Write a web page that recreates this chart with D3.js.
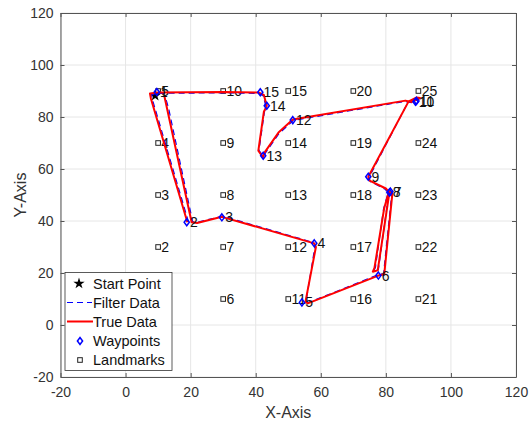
<!DOCTYPE html>
<html><head><meta charset="utf-8">
<script src="https://cdn.jsdelivr.net/npm/d3@7"></script>
<style>body{margin:0;background:#fff}svg{display:block}text{font-family:"Liberation Sans",Arial,sans-serif}</style>
</head><body><svg id="c" width="529" height="424"></svg>
<script>
const xTicks = [-20,0,20,40,60,80,100,120];
const yTicks = [-20,0,20,40,60,80,100,120];
const xTickLabels = ["-20","0","20","40","60","80","100","120"];
const yTickLabels = ["-20","0","20","40","60","80","100","120"];
const lmX = [10,10,10,10,10,30,30,30,30,30,50,50,50,50,50,70,70,70,70,70,90,90,90,90,90];
const lmY = [10,30,50,70,90,10,30,50,70,90,10,30,50,70,90,10,30,50,70,90,10,30,50,70,90];
const lmLabel = ["1","2","3","4","5","6","7","8","9","10","11","12","13","14","15","16","17","18","19","20","21","22","23","24","25"];
const wpX = [9.6,18.8,29.6,58.0,54.2,77.7,81.4,81.1,74.6,89.1,89.4,51.4,42.3,43.4,41.4];
const wpY = [89.6,39.5,41.4,31.4,8.7,19.0,51.3,51.0,57.0,85.9,86.2,78.8,65.1,84.3,89.5];
const wpLabel = ["1","2","3","4","5","6","7","8","9","10","11","12","13","14","15"];
const trueX = [11.9,20.3,22,29.6,58,58.5,55.3,56,77.7,79.5,82,81,79.5,76.5,76,77.5,81.1,80,75,74.6,87,89.5,90.5,88,86,51.4,47,42.8,42.2,40.8,42.5,43.4,42.5,41,30,10,7.5,7.8,19];
const trueY = [88.2,39.5,39.2,41.6,31.4,30,9,8.3,19,19.5,50.5,51.5,45,22,20.5,21,51,52.5,55.5,57,86,87.5,87.3,85.8,86.3,79,74,66.5,64.5,67,82,84.3,88.5,89.4,89.6,89.4,89,87,39.5];
const filtX = [12.5,13.2,20.6,22,29.8,57.8,58.2,55.5,56.2,77.5,79.3,81.8,80.8,79.3,76.8,76.3,77.7,80.9,79.8,75.2,74.8,86.8,89.3,90.2,87.8,85.8,51.6,47.2,43,42.4,41,42.7,43.2,42.3,40.8,30,10.3,8,8.3,19.3];
const filtY = [86.5,83.5,39.8,39.5,41.9,31.7,30.2,9.3,8.6,19.3,19.8,50.2,51.2,44.7,22.2,20.8,21.3,50.7,52.2,55.2,56.7,85.7,87.2,87,85.5,86,78.7,73.7,66.2,64.8,67.2,82.2,83.7,88.2,89.1,89.3,89.1,88.6,86.5,39.8];
const startX = 9.1, startY = 88.2;
const legendItems = ["Start Point","Filter Data","True Data","Waypoints","Landmarks"];

const svg = d3.select("#c");
const L=60.5, R=516, T=13, B=377;
const x = d3.scaleLinear().domain([-20,120]).range([L,R]);
const y = d3.scaleLinear().domain([-20,120]).range([B,T]);

// grid
const g = svg.append("g");
g.selectAll(".gx").data(xTicks).join("line").attr("x1",d=>x(d)).attr("x2",d=>x(d)).attr("y1",T).attr("y2",B).attr("stroke","#e6e6e6").attr("stroke-width",1);
g.selectAll(".gy").data(yTicks).join("line").attr("y1",d=>y(d)).attr("y2",d=>y(d)).attr("x1",L).attr("x2",R).attr("stroke","#e6e6e6").attr("stroke-width",1);

// landmarks
const lm = svg.append("g");
lmX.forEach((lx,i)=>{
  lm.append("rect").attr("x",x(lx)-2.3).attr("y",y(lmY[i])-2.3).attr("width",4.6).attr("height",4.6).attr("fill","none").attr("stroke","#222").attr("stroke-width",1);
  lm.append("text").attr("x",x(lx+1)).attr("y",y(lmY[i])).attr("dy","0.36em").attr("font-size",14).attr("fill","#111").text(lmLabel[i]);
});

// start point
const star = d3.symbol().type(d3.symbolStar).size(40);
svg.append("path").attr("d",star()).attr("transform",`translate(${x(startX)},${y(startY)})`).attr("fill","#000");

// filter data
const line = d3.line().x(d=>x(d[0])).y(d=>y(d[1]));
svg.append("path").attr("d",line(filtX.map((v,i)=>[v,filtY[i]]))).attr("fill","none").attr("stroke","#0000ff").attr("stroke-width",1.2).attr("stroke-dasharray","6,4");
// true data
svg.append("path").attr("d",line(trueX.map((v,i)=>[v,trueY[i]]))).attr("fill","none").attr("stroke","#ff0000").attr("stroke-width",2).attr("stroke-linejoin","round");

// waypoints
const dia = (cx,cy)=>`M${cx},${cy-3.5}L${cx+2.6},${cy}L${cx},${cy+3.5}L${cx-2.6},${cy}Z`;
const wp = svg.append("g");
wpX.forEach((wx,i)=>{
  wp.append("path").attr("d",dia(x(wx),y(wpY[i]))).attr("fill","none").attr("stroke","#0000ff").attr("stroke-width",1.5);
  wp.append("text").attr("x",x(wx+1)).attr("y",y(wpY[i])).attr("dy","0.36em").attr("font-size",14).attr("fill","#111").text(wpLabel[i]);
});

// axes
const ax = svg.append("g").attr("transform",`translate(0,${B})`).call(d3.axisBottom(x).tickValues(xTicks).tickSizeInner(-4).tickSizeOuter(0).tickPadding(10).tickFormat((d,i)=>xTickLabels[i]));
const ay = svg.append("g").attr("transform",`translate(${L},0)`).call(d3.axisLeft(y).tickValues(yTicks).tickSizeInner(-4).tickSizeOuter(0).tickPadding(7).tickFormat((d,i)=>yTickLabels[i]));
const axT = svg.append("g").attr("transform",`translate(0,${T})`).call(d3.axisTop(x).tickValues(xTicks).tickSizeInner(-4).tickSizeOuter(0).tickFormat(""));
const ayR = svg.append("g").attr("transform",`translate(${R},0)`).call(d3.axisRight(y).tickValues(yTicks).tickSizeInner(-4).tickSizeOuter(0).tickFormat(""));
[ax,ay,axT,ayR].forEach(a=>{
  a.select(".domain").attr("stroke","#555");
  a.selectAll(".tick line").attr("stroke","#555");
  a.selectAll("text").attr("font-size",14).attr("fill","#333").attr("font-family","'Liberation Sans',Arial,sans-serif");
});

svg.append("text").attr("x",(L+R)/2).attr("y",418).attr("text-anchor","middle").attr("font-size",16).attr("fill","#333").text("X-Axis");
svg.append("text").attr("transform",`translate(26,${(T+B)/2}) rotate(-90)`).attr("text-anchor","middle").attr("font-size",16).attr("fill","#333").text("Y-Axis");

// legend
const lg = svg.append("g");
lg.append("rect").attr("x",65).attr("y",272.5).attr("width",107).attr("height",98).attr("fill","#fff").attr("stroke","#333").attr("stroke-width",0.8);
const rows = [283.5,302.5,321.5,341,360];
legendItems.forEach((t,i)=>{
  lg.append("text").attr("x",93).attr("y",rows[i]).attr("dy","0.36em").attr("font-size",14.5).attr("fill","#111").text(t);
});
lg.append("path").attr("d",star()).attr("transform",`translate(79,${rows[0]})`).attr("fill","#000");
lg.append("line").attr("x1",67).attr("x2",92).attr("y1",rows[1]).attr("y2",rows[1]).attr("stroke","#0000ff").attr("stroke-width",1.2).attr("stroke-dasharray","6,4");
lg.append("line").attr("x1",67).attr("x2",93).attr("y1",rows[2]).attr("y2",rows[2]).attr("stroke","#ff0000").attr("stroke-width",2);
lg.append("path").attr("d",dia(80,rows[3])).attr("fill","none").attr("stroke","#0000ff").attr("stroke-width",1.5);
lg.append("rect").attr("x",77.7).attr("y",rows[4]-2.3).attr("width",4.6).attr("height",4.6).attr("fill","none").attr("stroke","#222");
</script></body></html>
